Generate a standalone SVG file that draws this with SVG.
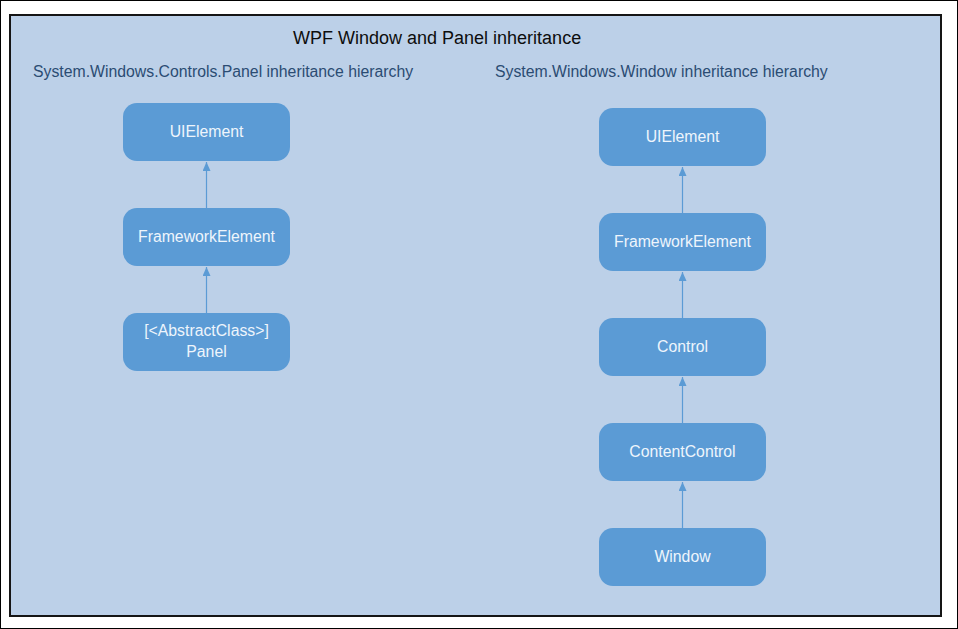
<svg xmlns="http://www.w3.org/2000/svg" width="958" height="629" viewBox="0 0 958 629">
  <style>
    .node rect { fill: #5B9BD5; }
    .node text { fill: #EEF5FC; font-family: "Liberation Sans", Arial, sans-serif; font-size: 15.8px; text-anchor: middle; }
    .sub { fill: #2B4C73; font-family: "Liberation Sans", Arial, sans-serif; font-size: 15.8px; }
    .title { fill: #0D0D0D; font-family: "Liberation Sans", Arial, sans-serif; font-size: 18px; }
    .conn line { stroke: #5B9BD5; stroke-width: 1.2; marker-end: url(#arr); }
  </style>
  <defs>
    <marker id="arr" viewBox="0 0 9 8" refX="9" refY="4" markerWidth="9" markerHeight="8" markerUnits="userSpaceOnUse" orient="auto">
      <path d="M0,0 L9,4 L0,8 Z" fill="#5B9BD5"/>
    </marker>
  </defs>
  <rect x="0.5" y="0.5" width="957" height="628" fill="#FFFFFF" stroke="#000000" stroke-width="1"/>
  <rect x="10" y="15" width="931" height="601" fill="#BCD0E8" stroke="#151515" stroke-width="2"/>
  <text class="title" x="293" y="44">WPF Window and Panel inheritance</text>
  <text class="sub" x="33" y="77">System.Windows.Controls.Panel inheritance hierarchy</text>
  <text class="sub" x="495" y="77">System.Windows.Window inheritance hierarchy</text>

  <g id="connectors" class="conn">
    <line x1="206.5" y1="208" x2="206.5" y2="162"/>
    <line x1="206.5" y1="313" x2="206.5" y2="267"/>
    <line x1="682.5" y1="213" x2="682.5" y2="167"/>
    <line x1="682.5" y1="318" x2="682.5" y2="272"/>
    <line x1="682.5" y1="423" x2="682.5" y2="377"/>
    <line x1="682.5" y1="528" x2="682.5" y2="482"/>
  </g>

  <g id="p-uielement" class="node"><rect x="123" y="103" width="167" height="58" rx="14"/><text x="206.5" y="137">UIElement</text></g>
  <g id="p-frameworkelement" class="node"><rect x="123" y="208" width="167" height="58" rx="14"/><text x="206.5" y="242">FrameworkElement</text></g>
  <g id="p-panel" class="node"><rect x="123" y="313" width="167" height="58" rx="14"/><text x="206.5" y="336">[&lt;AbstractClass&gt;]</text><text x="206.5" y="357">Panel</text></g>

  <g id="w-uielement" class="node"><rect x="599" y="108" width="167" height="58" rx="14"/><text x="682.5" y="142">UIElement</text></g>
  <g id="w-frameworkelement" class="node"><rect x="599" y="213" width="167" height="58" rx="14"/><text x="682.5" y="247">FrameworkElement</text></g>
  <g id="w-control" class="node"><rect x="599" y="318" width="167" height="58" rx="14"/><text x="682.5" y="352">Control</text></g>
  <g id="w-contentcontrol" class="node"><rect x="599" y="423" width="167" height="58" rx="14"/><text x="682.5" y="457">ContentControl</text></g>
  <g id="w-window" class="node"><rect x="599" y="528" width="167" height="58" rx="14"/><text x="682.5" y="562">Window</text></g>
</svg>
